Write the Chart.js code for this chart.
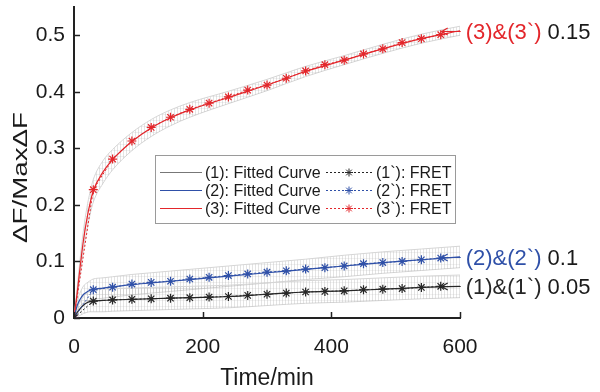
<!DOCTYPE html>
<html>
<head>
<meta charset="utf-8">
<script src="https://cdn.jsdelivr.net/npm/chart.js@4.4.1/dist/chart.umd.min.js"></script>
<style>
  html, body { margin: 0; padding: 0; background: #fff; }
  #wrap { width: 600px; height: 392px; }
</style>
</head>
<body>
<div id="wrap"><canvas id="c" width="600" height="392"></canvas></div>
<script>
/* ── Data ─────────────────────────────────────────────────────── */
const fretTimes = [0,30,60,90,120,150,180,210,240,270,300,330,360,390,420,450,480,510,540,570];
const fret1 = [0,0.030,0.032,0.033,0.034,0.035,0.036,0.037,0.038,0.040,0.042,0.044,0.046,0.047,0.048,0.050,0.051,0.052,0.054,0.056];
const fret2 = [0,0.050,0.0545,0.060,0.063,0.065,0.069,0.072,0.075,0.078,0.081,0.0835,0.0865,0.089,0.092,0.096,0.098,0.100,0.103,0.106];
const fret3 = [0,0.227,0.281,0.313,0.337,0.355,0.369,0.380,0.391,0.403,0.412,0.424,0.437,0.448,0.456,0.467,0.476,0.487,0.494,0.501];

const fitTimes = [0,5,10,15,20,25,30,45,60,90,120,150,180,240,300,360,420,480,540,600];
const fit1 = [0,0.010,0.017,0.023,0.027,0.029,0.030,0.031,0.032,0.033,0.034,0.035,0.036,0.038,0.042,0.046,0.048,0.051,0.054,0.056];
const fit2 = [0,0.022,0.034,0.042,0.046,0.049,0.051,0.053,0.055,0.059,0.062,0.065,0.068,0.074,0.080,0.086,0.092,0.098,0.103,0.108];
const fit3 = [0,0.045,0.095,0.140,0.175,0.203,0.225,0.258,0.280,0.312,0.336,0.354,0.368,0.390,0.412,0.436,0.456,0.476,0.494,0.508];

/* half-width of the grey error band around each fitted curve */
const err1 = [0,0.008,0.012,0.015,0.017,0.018,0.019,0.020,0.020,0.020,0.020,0.020,0.020,0.020,0.020,0.020,0.020,0.020,0.020,0.020];
const err2 = [0,0.008,0.012,0.015,0.016,0.017,0.018,0.018,0.018,0.018,0.018,0.018,0.018,0.018,0.018,0.018,0.019,0.019,0.019,0.019];
const err3 = [0,0.010,0.015,0.018,0.020,0.020,0.020,0.020,0.018,0.016,0.015,0.014,0.013,0.011,0.010,0.009,0.008,0.008,0.008,0.008];

const xTicks = [0,200,400,600];
const yTicks = [0,0.1,0.2,0.3,0.4,0.5];

const fitLabels  = ["(1): Fitted Curve","(2): Fitted Curve","(3): Fitted Curve"];
const fretLabels = ["(1`): FRET","(2`): FRET","(3`): FRET"];
const endLabels  = ["(1)&(1`)","(2)&(2`)","(3)&(3`)"];
const endRatios  = ["0.05","0.1","0.15"];

const colors = ["#262626","#2f50a8","#e3262b"];
const FONT = "'Liberation Sans', Arial, sans-serif";

/* ── Build datasets ── */
const ctx = document.getElementById("c").getContext("2d");

function hatch() {
  const p = document.createElement("canvas");
  p.width = 3; p.height = 6;
  const g = p.getContext("2d");
  g.fillStyle = "rgba(170,170,170,0.32)"; g.fillRect(0, 0, 1, 6);
  g.fillStyle = "rgba(190,190,190,0.22)"; g.fillRect(0, 0, 3, 1);
  return ctx.createPattern(p, "repeat");
}
const bandFill = hatch();

const fits = [fit1, fit2, fit3];
const errs = [err1, err2, err3];
const frets = [fret1, fret2, fret3];
const pts = (xs, ys) => xs.map((t, i) => ({ x: t, y: ys[i] }));

const datasets = [];
fits.forEach((f, k) => {
  datasets.push({
    data: pts(fitTimes, f.map((v, i) => v + errs[k][i])),
    fill: "+1", backgroundColor: bandFill, borderColor: "#d6d6d6", borderWidth: 1,
    pointRadius: 0, cubicInterpolationMode: "monotone", order: 10
  });
  datasets.push({
    data: pts(fitTimes, f.map((v, i) => v - errs[k][i])),
    fill: false, borderColor: "#d6d6d6", borderWidth: 1,
    pointRadius: 0, cubicInterpolationMode: "monotone", order: 10
  });
});
fits.forEach((f, k) => {
  datasets.push({
    label: fitLabels[k], data: pts(fitTimes, f),
    borderColor: colors[k], borderWidth: 1.2, pointRadius: 0,
    cubicInterpolationMode: "monotone", fill: false, order: 5
  });
});
frets.forEach((f, k) => {
  datasets.push({
    label: fretLabels[k], data: pts(fretTimes, f),
    borderColor: colors[k], borderWidth: 1, borderDash: [2, 2],
    pointStyle: "star", pointRadius: 4.5, pointBorderWidth: 1.2,
    pointBorderColor: colors[k], pointBackgroundColor: colors[k],
    fill: false, order: 1
  });
});

/* ── Inward ticks, legend box, end labels, y title ── */
const decorations = {
  id: "decorations",
  afterDraw(chart) {
    const { ctx: c, chartArea: a, scales: { x, y } } = chart;
    c.save();

    c.strokeStyle = "#222"; c.lineWidth = 1.5;
    yTicks.forEach(v => {
      const py = Math.round(y.getPixelForValue(v)) + 0.5;
      c.beginPath(); c.moveTo(a.left, py); c.lineTo(a.left + 6, py); c.stroke();
    });
    xTicks.forEach(v => {
      const px = Math.round(x.getPixelForValue(v)) + 0.5;
      c.beginPath(); c.moveTo(px, a.bottom); c.lineTo(px, a.bottom - 6); c.stroke();
    });

    /* legend */
    const L = { left: 155, top: 155, right: 455, bottom: 223 };
    c.fillStyle = "#fff";
    c.fillRect(L.left, L.top, L.right - L.left, L.bottom - L.top);
    c.strokeStyle = "#9a9a9a"; c.lineWidth = 1;
    c.strokeRect(L.left + 0.5, L.top + 0.5, L.right - L.left, L.bottom - L.top);
    c.font = "16px " + FONT; c.textBaseline = "middle"; c.textAlign = "left";
    for (let i = 0; i < 3; i++) {
      const ry = 172 + 18 * i + 0.5;
      c.setLineDash([]); c.strokeStyle = i === 0 ? "#777" : colors[i]; c.lineWidth = 1.2;
      c.beginPath(); c.moveTo(160, ry); c.lineTo(202, ry); c.stroke();
      c.fillStyle = "#1a1a1a"; c.fillText(fitLabels[i], 205, ry + 1);

      c.setLineDash([2, 2]); c.strokeStyle = colors[i]; c.lineWidth = 1;
      c.beginPath(); c.moveTo(326, ry); c.lineTo(372, ry); c.stroke();
      c.setLineDash([]);
      Chart.helpers.drawPoint(c, { pointStyle: "star", radius: 4, borderWidth: 1.2 }, 349, ry);
      c.fillStyle = "#1a1a1a"; c.fillText(fretLabels[i], 376, ry + 1);
    }

    /* end labels with arrows */
    c.font = "22px " + FONT;
    const last = fretTimes.length - 1;
    for (let i = 0; i < 3; i++) {
      const px = x.getPixelForValue(fretTimes[last]);
      const py = Math.round(y.getPixelForValue(fits[i][fits[i].length - 1])) + 0.5;
      c.strokeStyle = colors[i]; c.lineWidth = 1.2;
      c.beginPath();
      c.moveTo(px + 1, py); c.lineTo(px + 20, py);
      c.moveTo(px + 7, py - 3.5); c.lineTo(px + 1, py); c.lineTo(px + 7, py + 3.5);
      c.stroke();
      c.fillStyle = colors[i];
      c.fillText(endLabels[i], px + 25, py + 1);
      const w = c.measureText(endLabels[i] + " ").width;
      c.fillStyle = "#1a1a1a";
      c.fillText(endRatios[i], px + 25 + w, py + 1);
    }

    /* y title, stretched along its length like the original */
    c.translate(20, 177.5); c.rotate(-Math.PI / 2);
    c.font = "20px " + FONT; c.textAlign = "center"; c.fillStyle = "#1a1a1a";
    const t = "\u0394F/Max\u0394F";
    const tw = c.measureText(t).width;
    c.scale(131 / tw, 1);
    c.fillText(t, 0, 1);
    c.restore();
  }
};

new Chart(ctx, {
  type: "line",
  data: { datasets },
  options: {
    responsive: false,
    animation: false,
    devicePixelRatio: 1,
    layout: { padding: { left: 0, right: 140, top: 7, bottom: 0 } },
    plugins: { legend: { display: false }, tooltip: { enabled: false } },
    scales: {
      x: {
        type: "linear", min: 0, max: 600,
        afterBuildTicks: s => { s.ticks = xTicks.map(v => ({ value: v })); },
        afterFit: s => { s.height = 74; s.paddingLeft = 0; s.paddingRight = 0; },
        ticks: { color: "#1a1a1a", padding: 17, maxRotation: 0, font: { family: FONT, size: 21 } },
        grid: { drawOnChartArea: false, drawTicks: false },
        border: { display: true, color: "#222", width: 2 },
        title: { display: true, text: "Time/min", color: "#1a1a1a", padding: 0, font: { family: FONT, size: 23 } }
      },
      y: {
        type: "linear", min: 0, max: 0.55,
        afterBuildTicks: s => { s.ticks = yTicks.map(v => ({ value: v })); },
        afterFit: s => { s.width = 74; s.paddingTop = 0; s.paddingBottom = 0; },
        ticks: { color: "#1a1a1a", padding: 9, font: { family: FONT, size: 21 } },
        grid: { drawOnChartArea: false, drawTicks: false },
        border: { display: true, color: "#222", width: 2 }
      }
    }
  },
  plugins: [decorations]
});
</script>
</body>
</html>
